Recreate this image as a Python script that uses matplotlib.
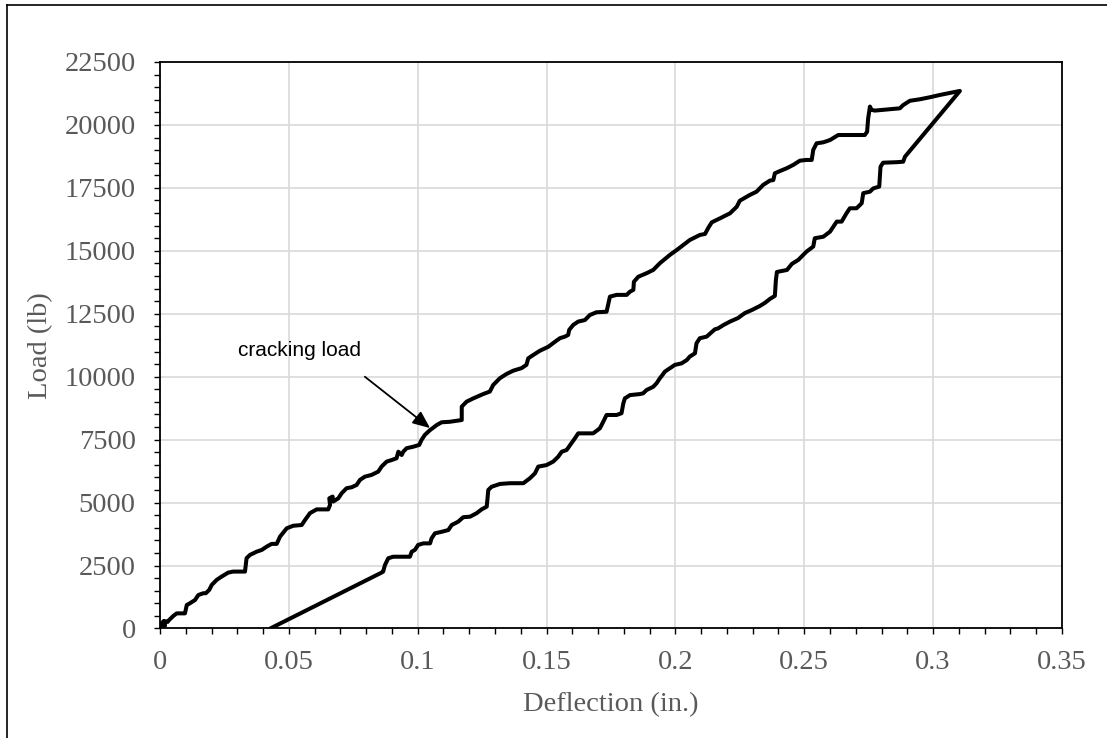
import matplotlib
matplotlib.use("Agg")
import matplotlib.pyplot as plt
from matplotlib.ticker import MultipleLocator, FuncFormatter
from matplotlib.lines import Line2D

# loading branch (deflection in., load lb)
load_defl = [0.0, 0.0010, 0.0005, 0.0020, 0.0015, 0.0030, 0.0032, 0.0052, 0.0065, 0.0097,
             0.0104, 0.0116, 0.0136, 0.0149, 0.0168, 0.0178, 0.0191, 0.0201, 0.0220, 0.0239,
             0.0265, 0.0284, 0.0330, 0.0336, 0.0349, 0.0375, 0.0395, 0.0414, 0.0433, 0.0453,
             0.0466, 0.0492, 0.0517, 0.0550, 0.0563, 0.0582, 0.0608, 0.0653, 0.0660, 0.0657,
             0.0670, 0.0672, 0.0692, 0.0705, 0.0724, 0.0744, 0.0763, 0.0776, 0.0795, 0.0821,
             0.0847, 0.0860, 0.0880, 0.0899, 0.0918, 0.0925, 0.0938, 0.0944, 0.0957, 0.0983,
             0.1006, 0.1015, 0.1028, 0.1048, 0.1074, 0.1093, 0.1125, 0.1171, 0.1171, 0.1190,
             0.1216, 0.1254, 0.1280, 0.1293, 0.1319, 0.1345, 0.1371, 0.1403, 0.1422, 0.1429,
             0.1448, 0.1474, 0.1507, 0.1533, 0.1552, 0.1571, 0.1584, 0.1588, 0.1604, 0.1623,
             0.1649, 0.1668, 0.1694, 0.1733, 0.1746, 0.1772, 0.1811, 0.1824, 0.1837, 0.1839,
             0.1856, 0.1888, 0.1914, 0.1940, 0.1979, 0.2005, 0.2056, 0.2095, 0.2115, 0.2127,
             0.2141, 0.2173, 0.2212, 0.2238, 0.2250, 0.2289, 0.2315, 0.2341, 0.2367, 0.2380,
             0.2386, 0.2406, 0.2432, 0.2457, 0.2483, 0.2509, 0.2529, 0.2535, 0.2548, 0.2574,
             0.2600, 0.2626, 0.2632, 0.2735, 0.2744, 0.2748, 0.2755, 0.2761, 0.2774, 0.2806,
             0.2832, 0.2871, 0.2884, 0.2910, 0.2949, 0.2988, 0.3026, 0.3065, 0.3104]
load_lb = [0, 250, 150, 120, 300, 260, 300, 500, 600, 600,
           930, 1000, 1130, 1330, 1400, 1400, 1530, 1730, 1930, 2060,
           2220, 2260, 2260, 2790, 2920, 3050, 3120, 3250, 3360, 3360,
           3650, 3980, 4080, 4110, 4310, 4580, 4730, 4730, 4910, 5170,
           5240, 5040, 5170, 5370, 5570, 5610, 5700, 5900, 6030, 6100,
           6230, 6430, 6630, 6690, 6760, 7020, 6890, 7020, 7160, 7220,
           7290, 7490, 7690, 7880, 8080, 8190, 8210, 8280, 8810, 9010,
           9140, 9310, 9410, 9670, 9940, 10110, 10240, 10340, 10470, 10730,
           10860, 11030, 11190, 11390, 11530, 11590, 11660, 11860, 12060, 12190,
           12250, 12450, 12560, 12580, 13180, 13250, 13250, 13380, 13450, 13770,
           13970, 14110, 14240, 14510, 14840, 15030, 15430, 15630, 15670, 15900,
           16130, 16290, 16490, 16750, 16990, 17220, 17350, 17620, 17790, 17810,
           18080, 18170, 18280, 18410, 18580, 18610, 18610, 19010, 19270, 19310,
           19400, 19560, 19600, 19600, 19730, 20260, 20730, 20600, 20570, 20600,
           20620, 20660, 20790, 20960, 21020, 21100, 21190, 21270, 21350]

# unloading branch
unload_defl = [0.3104, 0.2891, 0.2884, 0.2858, 0.2806, 0.2796, 0.2791, 0.2768, 0.2755, 0.2729,
               0.2723, 0.2703, 0.2677, 0.2664, 0.2645, 0.2626, 0.2613, 0.2600, 0.2574, 0.2541,
               0.2535, 0.2509, 0.2477, 0.2452, 0.2433, 0.2413, 0.2394, 0.2390, 0.2386, 0.2367,
               0.2347, 0.2328, 0.2297, 0.2270, 0.2243, 0.2212, 0.2186, 0.2166, 0.2153, 0.2121,
               0.2095, 0.2082, 0.2076, 0.2056, 0.2044, 0.2024, 0.1998, 0.1979, 0.1959, 0.1950,
               0.1940, 0.1927, 0.1914, 0.1888, 0.1875, 0.1862, 0.1824, 0.1804, 0.1798, 0.1791,
               0.1772, 0.1733, 0.1720, 0.1707, 0.1681, 0.1623, 0.1610, 0.1597, 0.1578, 0.1559,
               0.1545, 0.1526, 0.1500, 0.1468, 0.1455, 0.1436, 0.1410, 0.1358, 0.1319, 0.1287,
               0.1274, 0.1268, 0.1248, 0.1229, 0.1203, 0.1177, 0.1157, 0.1132, 0.1119, 0.1093,
               0.1067, 0.1054, 0.1048, 0.1022, 0.1002, 0.0989, 0.0977, 0.0970, 0.0944, 0.0905,
               0.0886, 0.0873, 0.0866, 0.0860, 0.0428]
unload_lb = [21350, 18740, 18540, 18520, 18500, 18340, 17550, 17480, 17350, 17290,
             16890, 16690, 16690, 16490, 16160, 16160, 15960, 15760, 15560, 15500,
             15170, 14970, 14640, 14480, 14240, 14200, 14160, 13840, 13210, 13090,
             12930, 12810, 12650, 12530, 12330, 12190, 12050, 11920, 11880, 11590,
             11530, 11330, 10930, 10800, 10660, 10530, 10470, 10340, 10200, 10070,
             9940, 9740, 9600, 9470, 9340, 9310, 9270, 9140, 8940, 8550,
             8480, 8480, 8210, 7950, 7750, 7750, 7550, 7360, 7090, 7020,
             6820, 6630, 6490, 6430, 6160, 5970, 5770, 5770, 5740, 5630,
             5500, 4840, 4730, 4580, 4440, 4420, 4240, 4110, 3910, 3840,
             3780, 3580, 3380, 3380, 3320, 3120, 3050, 2850, 2850, 2850,
             2790, 2520, 2260, 2220, 0]

# annotation: arrow start/tip and text position
crack_tip = (0.1048, 7960)
crack_tail = (0.0795, 10000)
crack_text_pos = (0.0543, 10820)

grey = '#595959'
serif = 'Liberation Serif'

fig = plt.figure(figsize=(11.07, 7.38), dpi=100)
ax = fig.add_axes([0.1445, 0.1484, 0.8148, 0.7676])

ax.plot(load_defl + unload_defl, load_lb + unload_lb, color='black', lw=2.9,
        solid_joinstyle='round', solid_capstyle='round', zorder=3)

ax.set_xlim(0, 0.35)
ax.set_ylim(0, 22500)
ax.xaxis.set_major_locator(MultipleLocator(0.05))
ax.xaxis.set_minor_locator(MultipleLocator(0.01))
ax.yaxis.set_major_locator(MultipleLocator(2500))
ax.yaxis.set_minor_locator(MultipleLocator(500))
ax.xaxis.set_major_formatter(FuncFormatter(lambda v, p: '{:g}'.format(round(v, 3))))
ax.yaxis.set_major_formatter(FuncFormatter(lambda v, p: '{:d}'.format(int(round(v)))))

ax.grid(True, which='major', color='#d9d9d9', lw=1.2, zorder=0)
ax.set_axisbelow(True)
for s in ax.spines.values():
    s.set_color('black')
    s.set_linewidth(1.3)

ax.tick_params(which='both', direction='out', length=4.5, width=1, color='black')
ax.tick_params(axis='x', which='major', pad=11)
ax.tick_params(axis='y', which='major', pad=13)
for lab in ax.get_xticklabels() + ax.get_yticklabels():
    lab.set_fontfamily(serif)
    lab.set_fontsize(20.5)
    lab.set_color(grey)

ax.set_xlabel('Deflection (in.)', fontfamily=serif, fontsize=20.5, color=grey, va='center')
ax.set_ylabel('Load (lb)', fontfamily=serif, fontsize=20.5, color=grey, va='center')
ax.xaxis.set_label_coords(0.5, -0.135)
ax.yaxis.set_label_coords(-0.132, 0.5)

ax.annotate('', xy=crack_tip, xytext=crack_tail,
            arrowprops=dict(arrowstyle='-|>,head_length=0.7,head_width=0.3',
                            color='black', lw=1.3, mutation_scale=15, shrinkA=0, shrinkB=0),
            zorder=4)
ax.text(crack_text_pos[0], crack_text_pos[1], 'cracking load', fontfamily='Liberation Sans',
        fontsize=15, color='black', ha='center', va='baseline')

# outer frame (only left and top edges fall inside the picture)
fig.add_artist(Line2D([0.0063, 0.0063], [0.0, 0.9932], transform=fig.transFigure,
                      color='black', lw=1.2))
fig.add_artist(Line2D([0.0063, 1.0], [0.9932, 0.9932], transform=fig.transFigure,
                      color='black', lw=1.2))

fig.savefig('out.png', dpi=100)
